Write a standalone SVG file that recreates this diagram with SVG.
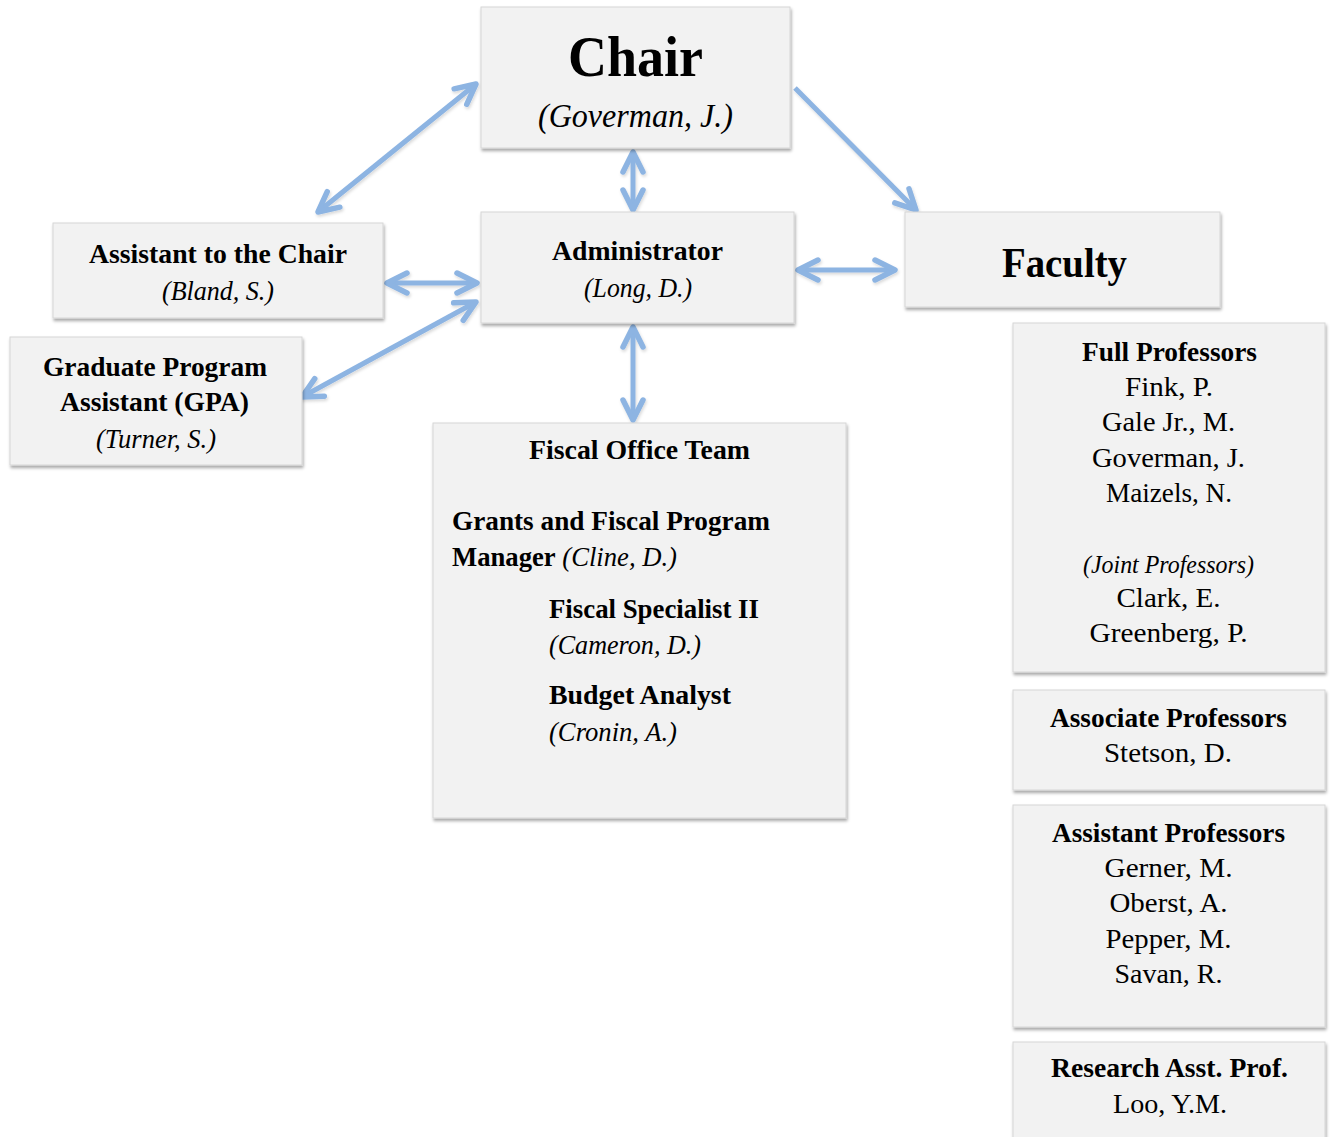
<svg xmlns="http://www.w3.org/2000/svg" width="1330" height="1137" viewBox="0 0 1330 1137">
<defs>
<style>
.box{fill:#f2f2f2;stroke:#d6d6d6;stroke-width:1;filter:url(#sh)}
text{font-family:"Liberation Serif","Times New Roman",serif;fill:#000}
.b{font-weight:bold}
.i{font-style:italic}
.c{text-anchor:middle}
.conn{filter:url(#ash)}
.conn line{stroke:#8db4e2;stroke-width:5;fill:none}
</style>
<filter id="sh" x="-5%" y="-5%" width="115%" height="125%">
<feDropShadow dx="1" dy="2.5" stdDeviation="1.5" flood-color="#000" flood-opacity="0.35"/>
</filter>
<filter id="ash" x="-5%" y="-5%" width="115%" height="115%">
<feDropShadow dx="1" dy="2" stdDeviation="1.5" flood-color="#000" flood-opacity="0.15"/>
</filter>
<marker id="ah" markerUnits="userSpaceOnUse" viewBox="-28 -16 32 32" markerWidth="32" markerHeight="32" refX="0" refY="0" orient="auto-start-reverse">
<path d="M-20,-10 L0,0 L-20,10" fill="none" stroke="#8db4e2" stroke-width="5.5" stroke-linecap="round" stroke-linejoin="round"/>
</marker>
</defs>
<rect width="1330" height="1137" fill="#fff"/>

<g id="connectors" class="conn">
<line x1="476" y1="84" x2="318" y2="212" marker-start="url(#ah)" marker-end="url(#ah)"/>
<line x1="795" y1="88" x2="916" y2="210" marker-end="url(#ah)"/>
<line x1="633" y1="152" x2="633" y2="210" marker-start="url(#ah)" marker-end="url(#ah)"/>
<line x1="798" y1="270" x2="895" y2="270" marker-start="url(#ah)" marker-end="url(#ah)"/>
<line x1="387" y1="283" x2="477" y2="283" marker-start="url(#ah)" marker-end="url(#ah)"/>
<line x1="476" y1="302" x2="302" y2="397" marker-start="url(#ah)" marker-end="url(#ah)"/>
<line x1="633" y1="327" x2="633" y2="420" marker-start="url(#ah)" marker-end="url(#ah)"/>
</g>

<g id="chair">
<rect class="box" x="481" y="7" width="309" height="141"/>
<text class="b c" x="635.5" y="76" font-size="58" textLength="135" lengthAdjust="spacingAndGlyphs">Chair</text>
<text class="i c" x="635.5" y="127" font-size="34" textLength="195" lengthAdjust="spacingAndGlyphs">(Goverman, J.)</text>
</g>

<g id="administrator">
<rect class="box" x="481" y="212" width="313" height="111"/>
<text class="b c" x="637.5" y="260" font-size="28" textLength="171" lengthAdjust="spacingAndGlyphs">Administrator</text>
<text class="i c" x="638" y="297" font-size="28" textLength="108" lengthAdjust="spacingAndGlyphs">(Long, D.)</text>
</g>

<g id="assistant-chair">
<rect class="box" x="53" y="223" width="330" height="95"/>
<text class="b c" x="218" y="263" font-size="27" textLength="258" lengthAdjust="spacingAndGlyphs">Assistant to the Chair</text>
<text class="i c" x="218" y="300" font-size="27" textLength="112" lengthAdjust="spacingAndGlyphs">(Bland, S.)</text>
</g>

<g id="gpa">
<rect class="box" x="10" y="337" width="292" height="128"/>
<text class="b c" x="155" y="376" font-size="27" textLength="224" lengthAdjust="spacingAndGlyphs">Graduate Program</text>
<text class="b c" x="154.5" y="411" font-size="27" textLength="189" lengthAdjust="spacingAndGlyphs">Assistant (GPA)</text>
<text class="i c" x="156" y="448" font-size="27" textLength="120" lengthAdjust="spacingAndGlyphs">(Turner, S.)</text>
</g>

<g id="faculty">
<rect class="box" x="905" y="212" width="315" height="95"/>
<text class="b c" x="1064.5" y="277" font-size="42" textLength="125" lengthAdjust="spacingAndGlyphs">Faculty</text>
</g>

<g id="fiscal">
<rect class="box" x="433" y="423" width="413" height="395"/>
<text class="b c" x="639.5" y="459" font-size="27" textLength="221" lengthAdjust="spacingAndGlyphs">Fiscal Office Team</text>
<text class="b" x="452" y="530" font-size="27" textLength="318" lengthAdjust="spacingAndGlyphs">Grants and Fiscal Program</text>
<text x="452" y="566" font-size="27" textLength="225" lengthAdjust="spacingAndGlyphs"><tspan class="b">Manager</tspan> <tspan class="i">(Cline, D.)</tspan></text>
<text class="b" x="549" y="618" font-size="27" textLength="210" lengthAdjust="spacingAndGlyphs">Fiscal Specialist II</text>
<text class="i" x="549" y="654" font-size="27" textLength="152" lengthAdjust="spacingAndGlyphs">(Cameron, D.)</text>
<text class="b" x="549" y="704" font-size="27" textLength="182" lengthAdjust="spacingAndGlyphs">Budget Analyst</text>
<text class="i" x="549" y="741" font-size="27" textLength="128" lengthAdjust="spacingAndGlyphs">(Cronin, A.)</text>
</g>

<g id="full-professors">
<rect class="box" x="1013" y="323" width="312" height="349"/>
<text class="b c" x="1169.5" y="361" font-size="27" textLength="175" lengthAdjust="spacingAndGlyphs">Full Professors</text>
<text class="c" x="1169" y="396" font-size="28" textLength="88" lengthAdjust="spacingAndGlyphs">Fink, P.</text>
<text class="c" x="1168.5" y="431" font-size="28" textLength="133" lengthAdjust="spacingAndGlyphs">Gale Jr., M.</text>
<text class="c" x="1168.5" y="467" font-size="28" textLength="153" lengthAdjust="spacingAndGlyphs">Goverman, J.</text>
<text class="c" x="1169" y="502" font-size="28" textLength="126" lengthAdjust="spacingAndGlyphs">Maizels, N.</text>
<text class="i c" x="1168.5" y="573" font-size="25" textLength="171" lengthAdjust="spacingAndGlyphs">(Joint Professors)</text>
<text class="c" x="1168.5" y="607" font-size="28" textLength="104" lengthAdjust="spacingAndGlyphs">Clark, E.</text>
<text class="c" x="1168.5" y="642" font-size="28" textLength="158" lengthAdjust="spacingAndGlyphs">Greenberg, P.</text>
</g>

<g id="associate-professors">
<rect class="box" x="1013" y="690" width="312" height="100"/>
<text class="b c" x="1168.5" y="727" font-size="27" textLength="237" lengthAdjust="spacingAndGlyphs">Associate Professors</text>
<text class="c" x="1168" y="762" font-size="28" textLength="128" lengthAdjust="spacingAndGlyphs">Stetson, D.</text>
</g>

<g id="assistant-professors">
<rect class="box" x="1013" y="805" width="312" height="222"/>
<text class="b c" x="1168.5" y="842" font-size="27" textLength="233" lengthAdjust="spacingAndGlyphs">Assistant Professors</text>
<text class="c" x="1168.5" y="877" font-size="28" textLength="128" lengthAdjust="spacingAndGlyphs">Gerner, M.</text>
<text class="c" x="1168.5" y="912" font-size="28" textLength="118" lengthAdjust="spacingAndGlyphs">Oberst, A.</text>
<text class="c" x="1168.5" y="948" font-size="28" textLength="126" lengthAdjust="spacingAndGlyphs">Pepper, M.</text>
<text class="c" x="1168.5" y="983" font-size="28" textLength="108" lengthAdjust="spacingAndGlyphs">Savan, R.</text>
</g>

<g id="research-asst-prof">
<rect class="box" x="1013" y="1042" width="312" height="110"/>
<text class="b c" x="1169.5" y="1077" font-size="27" textLength="237" lengthAdjust="spacingAndGlyphs">Research Asst. Prof.</text>
<text class="c" x="1170" y="1113" font-size="28" textLength="114" lengthAdjust="spacingAndGlyphs">Loo, Y.M.</text>
</g>
</svg>
